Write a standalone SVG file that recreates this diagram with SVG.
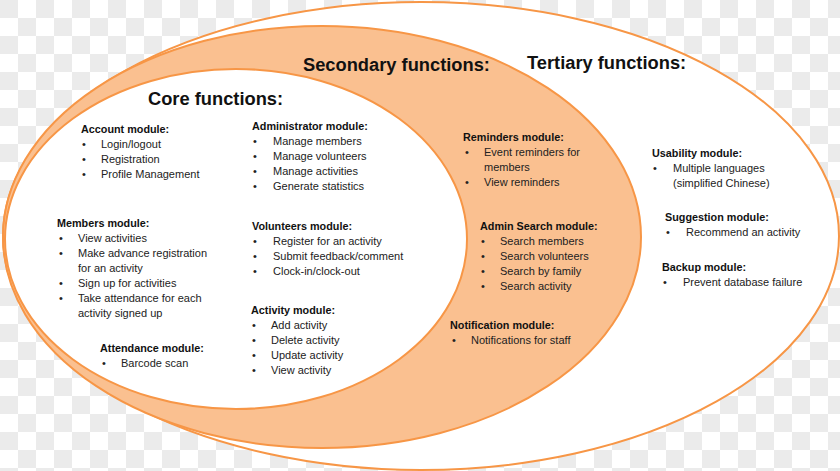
<svg xmlns="http://www.w3.org/2000/svg" width="840" height="471" viewBox="0 0 840 471">
<defs>
<pattern id="checker" x="0" y="0" width="36" height="36" patternUnits="userSpaceOnUse">
<rect width="36" height="36" fill="#ffffff"/>
<rect x="0" y="0" width="18" height="18" fill="#ebebeb"/>
<rect x="18" y="18" width="18" height="18" fill="#ebebeb"/>
</pattern>
<style>
.ring{stroke:#f79646;stroke-width:2}
.title{font-family:"Liberation Sans",Arial,sans-serif;font-weight:bold;font-size:18.3px;fill:#111}
.h{font-family:"Liberation Sans",Arial,sans-serif;font-weight:bold;font-size:10.8px;fill:#111}
.t{font-family:"Liberation Sans",Arial,sans-serif;font-size:11px;fill:#222}
</style>
</defs>
<rect width="840" height="471" fill="url(#checker)"/>

<g id="tertiary">
<ellipse class="ring" cx="421" cy="236" rx="418" ry="234" fill="#ffffff"/>
</g>
<g id="secondary">
<ellipse class="ring" cx="322" cy="237" rx="319" ry="211" fill="#fac090"/>
</g>
<g id="core">
<ellipse class="ring" cx="236" cy="239" rx="231" ry="170" fill="#ffffff"/>
</g>

<g id="titles">
<text class="title" x="148" y="105">Core functions:</text>
<text class="title" x="303" y="71">Secondary functions:</text>
<text class="title" x="527" y="69">Tertiary functions:</text>
</g>

<g id="account-module">
<text class="h" x="81" y="133">Account module:</text>
<text class="t" x="82" y="148">•</text><text class="t" x="101" y="148">Login/logout</text>
<text class="t" x="82" y="163">•</text><text class="t" x="101" y="163">Registration</text>
<text class="t" x="82" y="178">•</text><text class="t" x="101" y="178">Profile Management</text>
</g>

<g id="members-module">
<text class="h" x="57" y="227">Members module:</text>
<text class="t" x="59" y="242">•</text><text class="t" x="78" y="242">View activities</text>
<text class="t" x="59" y="257">•</text><text class="t" x="78" y="257">Make advance registration</text>
<text class="t" x="78" y="272">for an activity</text>
<text class="t" x="59" y="287">•</text><text class="t" x="78" y="287">Sign up for activities</text>
<text class="t" x="59" y="302">•</text><text class="t" x="78" y="302">Take attendance for each</text>
<text class="t" x="78" y="317">activity signed up</text>
</g>

<g id="attendance-module">
<text class="h" x="100" y="352">Attendance module:</text>
<text class="t" x="102" y="367">•</text><text class="t" x="121" y="367">Barcode scan</text>
</g>

<g id="administrator-module">
<text class="h" x="252" y="130">Administrator module:</text>
<text class="t" x="253" y="145">•</text><text class="t" x="273" y="145">Manage members</text>
<text class="t" x="253" y="160">•</text><text class="t" x="273" y="160">Manage volunteers</text>
<text class="t" x="253" y="175">•</text><text class="t" x="273" y="175">Manage activities</text>
<text class="t" x="253" y="190">•</text><text class="t" x="273" y="190">Generate statistics</text>
</g>

<g id="volunteers-module">
<text class="h" x="252" y="230">Volunteers module:</text>
<text class="t" x="253" y="245">•</text><text class="t" x="273" y="245">Register for an activity</text>
<text class="t" x="253" y="260">•</text><text class="t" x="273" y="260">Submit feedback/comment</text>
<text class="t" x="253" y="275">•</text><text class="t" x="273" y="275">Clock-in/clock-out</text>
</g>

<g id="activity-module">
<text class="h" x="251" y="314">Activity module:</text>
<text class="t" x="252" y="329">•</text><text class="t" x="271" y="329">Add activity</text>
<text class="t" x="252" y="344">•</text><text class="t" x="271" y="344">Delete activity</text>
<text class="t" x="252" y="359">•</text><text class="t" x="271" y="359">Update activity</text>
<text class="t" x="252" y="374">•</text><text class="t" x="271" y="374">View activity</text>
</g>

<g id="reminders-module">
<text class="h" x="463" y="141">Reminders module:</text>
<text class="t" x="465" y="156">•</text><text class="t" x="484" y="156">Event reminders for</text>
<text class="t" x="484" y="171">members</text>
<text class="t" x="465" y="186">•</text><text class="t" x="484" y="186">View reminders</text>
</g>

<g id="admin-search-module">
<text class="h" x="480" y="230">Admin Search module:</text>
<text class="t" x="481" y="245">•</text><text class="t" x="500" y="245">Search members</text>
<text class="t" x="481" y="260">•</text><text class="t" x="500" y="260">Search volunteers</text>
<text class="t" x="481" y="275">•</text><text class="t" x="500" y="275">Search by family</text>
<text class="t" x="481" y="290">•</text><text class="t" x="500" y="290">Search activity</text>
</g>

<g id="notification-module">
<text class="h" x="450" y="329">Notification module:</text>
<text class="t" x="452" y="344">•</text><text class="t" x="471" y="344">Notifications  for staff</text>
</g>

<g id="usability-module">
<text class="h" x="652" y="157">Usability module:</text>
<text class="t" x="653" y="172">•</text><text class="t" x="673" y="172">Multiple languages</text>
<text class="t" x="673" y="187">(simplified Chinese)</text>
</g>

<g id="suggestion-module">
<text class="h" x="665" y="221">Suggestion module:</text>
<text class="t" x="666" y="236">•</text><text class="t" x="686" y="236">Recommend an activity</text>
</g>

<g id="backup-module">
<text class="h" x="662" y="271">Backup module:</text>
<text class="t" x="663" y="286">•</text><text class="t" x="683" y="286">Prevent database failure</text>
</g>
</svg>
